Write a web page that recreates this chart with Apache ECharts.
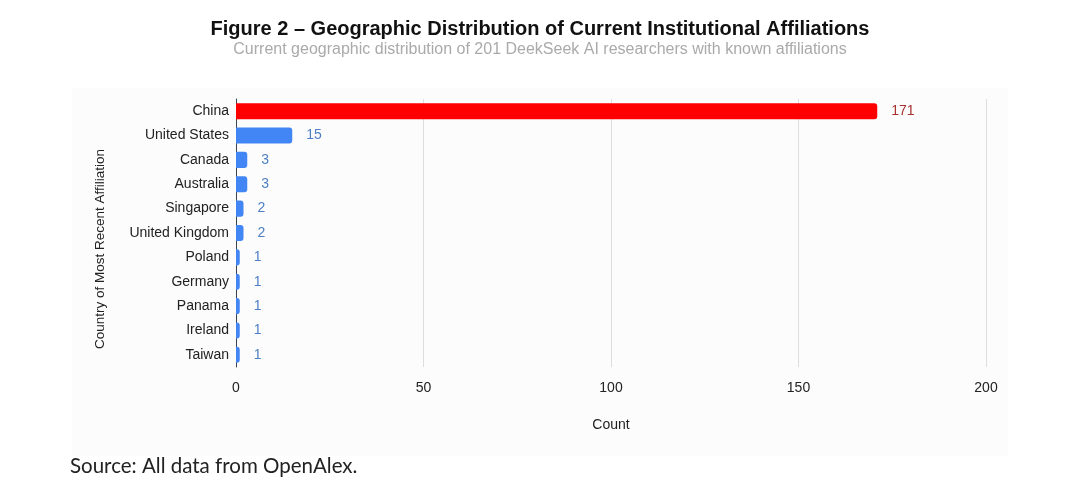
<!DOCTYPE html>
<html>
<head>
<meta charset="utf-8">
<script src="https://cdn.jsdelivr.net/npm/echarts@6/dist/echarts.min.js"></script>
<style>html,body{margin:0;padding:0;background:#fff;}#c{width:1080px;height:490px;}</style>
</head>
<body>
<div id="c"></div>
<script>
var categories = ['China','United States','Canada','Australia','Singapore','United Kingdom','Poland','Germany','Panama','Ireland','Taiwan'];
var counts = [171,15,3,3,2,2,1,1,1,1,1];
var xTicks = [0,50,100,150,200];

var chart = echarts.init(document.getElementById('c'), null, {renderer:'canvas'});
var data = counts.map(function(v,i){
  var top = i === 0;
  return {
    value: v,
    itemStyle: {color: top ? '#ff0000' : '#4285f4'},
    label: {color: top ? '#a83232' : '#4f7fc4'}
  };
});
chart.setOption({
  backgroundColor:'#ffffff',
  animation:false,
  graphic:[
    {type:'rect', left:72, top:88, shape:{width:936,height:368}, style:{fill:'#fcfcfc'}, z:-10},
    {type:'text', left:70, top:456, style:{text:'Source: All data from OpenAlex.', font:'20.5px Lato', fill:'#222'}},
    {type:'text', x:100, y:249, rotation:Math.PI/2, style:{text:'Country of Most Recent Affiliation', font:'13.5px "Liberation Sans", Arial', fill:'#222', align:'center', verticalAlign:'middle'}}
  ],
  title:{
    text:'Figure 2 \u2013 Geographic Distribution of Current Institutional Affiliations',
    subtext:'Current geographic distribution of 201 DeekSeek AI researchers with known affiliations',
    left:'center', top:14, itemGap:3,
    textStyle:{fontFamily:'Liberation Sans', fontWeight:'bold', fontSize:20, color:'#111'},
    subtextStyle:{fontFamily:'Liberation Sans', fontSize:16, color:'#aaaaaa'}
  },
  grid:{left:236, right:94, top:99, bottom:123, containLabel:false},
  xAxis:{
    type:'value', min:0, max:200, interval:50,
    name:'Count', nameLocation:'middle', nameGap:51,
    nameTextStyle:{fontFamily:'Liberation Sans', fontSize:14, color:'#222'},
    axisLine:{show:false}, axisTick:{show:false},
    axisLabel:{fontFamily:'Liberation Sans', fontSize:14, color:'#222', margin:14,
      formatter:function(v){return xTicks.indexOf(v)>=0 ? String(v) : '';}},
    splitLine:{show:true, lineStyle:{color:'#dddddd', width:1}}
  },
  yAxis:{
    type:'category', data:categories, inverse:true,
    axisLine:{show:true, lineStyle:{color:'#3a4450', width:1}},
    axisTick:{show:false},
    axisLabel:{fontFamily:'Liberation Sans', fontSize:14, color:'#222', margin:7}
  },
  series:[{
    type:'bar', data:data, barWidth:'66%',
    itemStyle:{borderRadius:[0,3,3,0]},
    label:{show:true, position:'right', distance:14, fontFamily:'Liberation Sans', fontSize:14}
  }]
});
</script>
</body>
</html>
